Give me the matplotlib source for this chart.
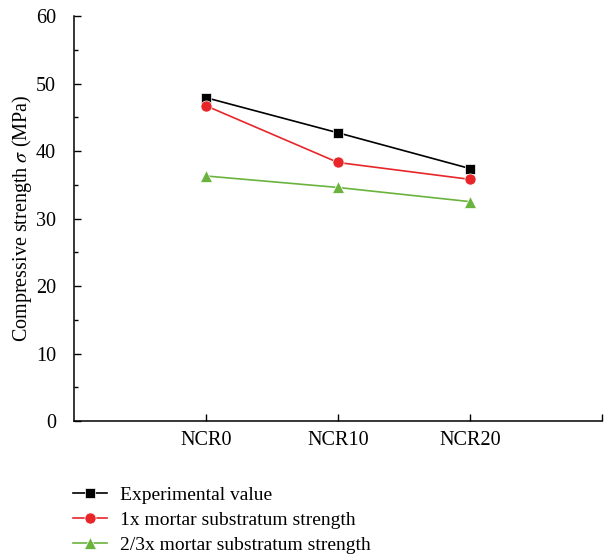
import matplotlib
matplotlib.use('Agg')
import matplotlib.pyplot as plt
from matplotlib.ticker import MultipleLocator

# data
mixes = ['NCR0', 'NCR10', 'NCR20']
experimental = [47.9, 42.7, 37.4]
mortar_1x = [46.7, 38.3, 35.8]
mortar_23x = [36.3, 34.6, 32.5]
labels = ['Experimental value', '1x mortar substratum strength',
          '2/3x mortar substratum strength']

plt.rcParams['font.family'] = ['Liberation Serif', 'DejaVu Serif']
plt.rcParams['mathtext.fontset'] = 'stix'

fig = plt.figure(figsize=(6.06, 5.58), dpi=100)
ax = fig.add_axes([0.1221, 0.2455, 0.8713, 0.7258])

x = [1, 2, 3]
ax.plot(x, experimental, color='black', lw=1.2, marker='s', ms=7,
        mec='white', mew=0.5, label=labels[0])
ax.plot(x, mortar_1x, color='#e8262a', lw=1.2, marker='o', ms=8,
        mec='white', mew=0.5, label=labels[1])
ax.plot(x, mortar_23x, color='#6ab43e', lw=1.2, marker='^', ms=9,
        mec='white', mew=0.5, label=labels[2])

ax.set_xlim(0, 4)
ax.set_ylim(0, 60)
ax.set_xticks([1, 2, 3, 4])
ax.set_xticklabels(mixes + [''])
ax.yaxis.set_major_locator(MultipleLocator(10))
ax.yaxis.set_minor_locator(MultipleLocator(5))
ax.tick_params(axis='both', which='major', direction='in', length=5,
               width=1, labelsize=14.5)
ax.tick_params(axis='y', which='minor', direction='in', length=3, width=1)
ax.tick_params(axis='x', pad=7)
ax.tick_params(axis='y', pad=13)
ax.spines['top'].set_visible(False)
ax.spines['right'].set_visible(False)
for s in ['left', 'bottom']:
    ax.spines[s].set_linewidth(1.1)

ax.set_ylabel(r'Compressive strength $\sigma$ (MPa)', fontsize=14.5, va='center')
ax.yaxis.set_label_coords(-0.099, 0.5)

fig.legend(loc='upper left', bbox_to_anchor=(0.107, 0.143), frameon=False,
           fontsize=14, handlelength=1.75, handletextpad=0.67,
           labelspacing=0.38, borderaxespad=0)

fig.savefig('out.png', dpi=100)
